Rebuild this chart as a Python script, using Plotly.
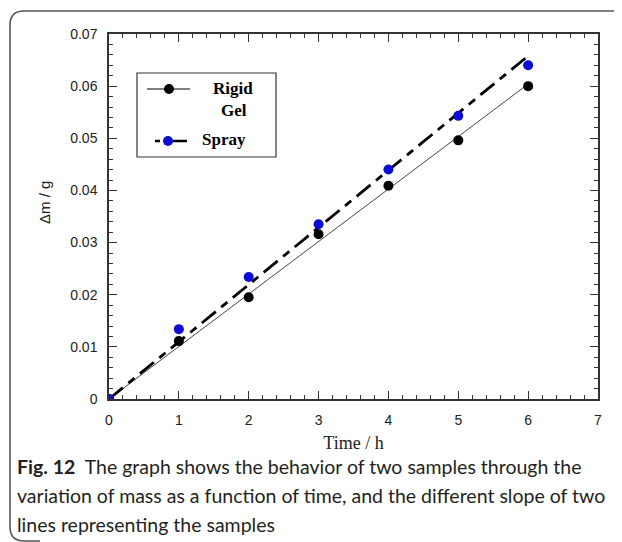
import plotly.graph_objects as go

time_h = [0, 1, 2, 3, 4, 5, 6]
rigid_gel = [0.0, 0.0111, 0.0195, 0.0316, 0.0409, 0.0496, 0.0600]
spray = [0.0, 0.0134, 0.0234, 0.0335, 0.0440, 0.0543, 0.0640]

# straight fit lines drawn in the original (end points)
fit_x = [0, 6]
rigid_fit = [0.0, 0.0604]
spray_fit = [0.0, 0.0658]

caption_lines = [
    "<b>Fig. 12</b>  The graph shows the behavior of two samples through the",
    "variation of mass as a function of time, and the different slope of two",
    "lines representing the samples",
]

# the page body has an 8px margin, so the figure starts at (8, 8)
OFF = 8
W, H = 622 - OFF, 542 - OFF
L, T = 109 - OFF, 34 - OFF
PW, PH = 489, 365
R, B = W - L - PW, H - T - PH


def px(x):
    # page pixel -> paper x
    return (x - OFF - L) / PW


def py(y):
    # page pixel -> paper y
    return 1 - (y - OFF - T) / PH


fig = go.Figure()
fig.add_trace(go.Scatter(x=fit_x, y=rigid_fit, mode="lines",
                         line=dict(color="#444444", width=1)))
fig.add_trace(go.Scatter(x=fit_x, y=spray_fit, mode="lines",
                         line=dict(color="black", width=2.8, dash="18px,7px,8px,7px")))
fig.add_trace(go.Scatter(x=time_h, y=rigid_gel, mode="markers",
                         marker=dict(color="black", size=10)))
fig.add_trace(go.Scatter(x=time_h, y=spray, mode="markers",
                         marker=dict(color="#0c0cd2", size=10)))

axis_common = dict(
    showline=True, linecolor="#333333", linewidth=1.5, mirror="ticks",
    ticks="inside", ticklen=8, tickwidth=1.2, tickcolor="#333333",
    showgrid=False, zeroline=False,
    tickfont=dict(family="Liberation Sans, Arial", size=14, color="#222222"),
    ticklabelstandoff=7,
)
fig.update_xaxes(range=[0, 7], dtick=1,
                 minor=dict(dtick=0.2, ticks="inside", ticklen=4, tickcolor="#333333"),
                 title=dict(text="Time / h", standoff=10,
                            font=dict(family="Liberation Serif, Times New Roman", size=18, color="#222222")),
                 **axis_common)
fig.update_yaxes(range=[0, 0.07], dtick=0.01,
                 minor=dict(dtick=0.002, ticks="inside", ticklen=4, tickcolor="#333333"),
                 **axis_common)

shapes = []
# outer frame with rounded left corners
r = 14
fx0, fy0, fy1 = 10, 11, 541
path = (f"M {px(630)},{py(fy0)} L {px(fx0 + r)},{py(fy0)} "
        f"Q {px(fx0)},{py(fy0)} {px(fx0)},{py(fy0 + r)} "
        f"L {px(fx0)},{py(fy1 - r)} Q {px(fx0)},{py(fy1)} {px(fx0 + r)},{py(fy1)} "
        f"L {px(40)},{py(fy1)}")
shapes.append(dict(type="path", xref="paper", yref="paper", path=path,
                   line=dict(color="#555555", width=1.6)))

# legend box
shapes.append(dict(type="rect", xref="paper", yref="paper",
                   x0=px(137), x1=px(276), y0=py(73), y1=py(157),
                   line=dict(color="#333333", width=1.2)))
shapes.append(dict(type="line", xref="paper", yref="paper",
                   x0=px(147), x1=px(190), y0=py(89), y1=py(89),
                   line=dict(color="black", width=1)))
shapes.append(dict(type="line", xref="paper", yref="paper",
                   x0=px(155), x1=px(160), y0=py(141), y1=py(141),
                   line=dict(color="black", width=2.5)))
shapes.append(dict(type="line", xref="paper", yref="paper",
                   x0=px(170), x1=px(187), y0=py(141), y1=py(141),
                   line=dict(color="black", width=2.5)))
for cx, cy, col in [(169, 89, "black"), (168, 141, "#0c0cd2")]:
    shapes.append(dict(type="circle", xref="paper", yref="paper",
                       xsizemode="pixel", ysizemode="pixel",
                       xanchor=px(cx), yanchor=py(cy),
                       x0=-5, x1=5, y0=-5, y1=5,
                       fillcolor=col, line=dict(width=0)))

legend_font = dict(family="Liberation Serif, Times New Roman", size=17, color="black")
annotations = [
    dict(text="<b>Rigid</b>", x=px(233), y=py(89), font=legend_font),
    dict(text="<b>Gel</b>", x=px(234), y=py(110), font=legend_font),
    dict(text="<b>Spray</b>", x=px(224), y=py(139), font=legend_font),
    dict(text="Δm / g", x=px(44), y=py(203), textangle=-90,
         font=dict(family="Liberation Sans, Arial", size=15, color="#222222")),
]
for a in annotations:
    a.update(xref="paper", yref="paper", showarrow=False, xanchor="center", yanchor="middle")

cap_font = dict(family="Lato, Noto Sans", size=19.5, color="#231f20")
for i, line in enumerate(caption_lines):
    annotations.append(dict(text=line, xref="paper", yref="paper", x=px(15), y=py(466 + i * 29),
                            xanchor="left", yanchor="middle", showarrow=False, font=cap_font))

fig.update_layout(
    width=W, height=H,
    margin=dict(l=L, r=R, t=T, b=B),
    paper_bgcolor="white", plot_bgcolor="white",
    showlegend=False,
    shapes=shapes, annotations=annotations,
)

fig.write_html("out.html")
